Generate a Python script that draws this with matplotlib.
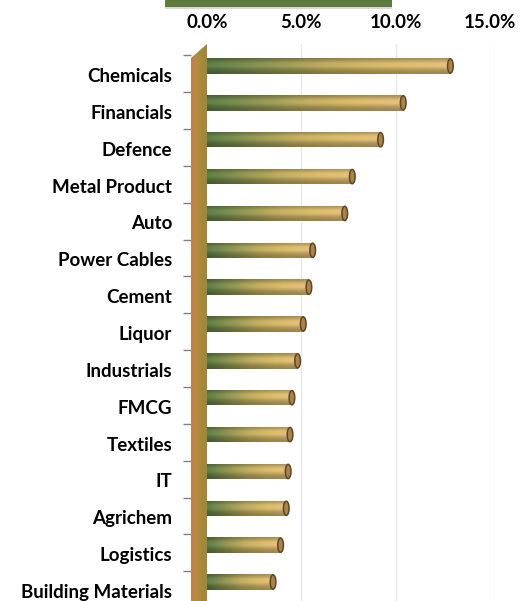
import numpy as np
import matplotlib
matplotlib.use("Agg")
import matplotlib.pyplot as plt
from matplotlib.colors import LinearSegmentedColormap
from matplotlib.patches import Polygon, Ellipse, Rectangle
from matplotlib.transforms import ScaledTranslation
from matplotlib.ticker import FixedLocator, FuncFormatter

categories = ["Chemicals", "Financials", "Defence", "Metal Product", "Auto",
              "Power Cables", "Cement", "Liquor", "Industrials", "FMCG",
              "Textiles", "IT", "Agrichem", "Logistics", "Building Materials"]
values = [12.9, 10.4, 9.2, 7.7, 7.3, 5.6, 5.4, 5.1, 4.8, 4.5, 4.4, 4.3, 4.2, 3.9, 3.5]
xticks = [0, 5, 10, 15]

plt.rcParams['font.family'] = ['Lato', 'DejaVu Sans']

W, H = 526, 601
fig = plt.figure(figsize=(W / 100, H / 100), dpi=100)
ax = fig.add_axes([191 / W, 0, 299 / W, 1 - 44 / H])
n = len(categories)
ypos = np.arange(n)
XLIM = (-0.85, 15.0)
YLIM = ((601 - 66) / 36.86, -0.597)

# gridlines
for xv in xticks[1:]:
    ax.axvline(xv, color="#e8e8e8", lw=1, zorder=0)

# bars
bar_h = 0.42
bars = ax.barh(ypos, values, height=bar_h, left=0, color="none", edgecolor="none", zorder=2)

hcmap = LinearSegmentedColormap.from_list(
    "h", ["#5a7a44", "#8a9050", "#b9a65c", "#d0b466", "#dcb876"])
prof_y = np.linspace(0, 1, 40)
profile = 0.72 + 0.36 * np.exp(-((prof_y - 0.42) / 0.3) ** 2)
profile = np.clip(profile, 0, 1.05)
gx = np.linspace(0, 1, 200)
base = hcmap(gx)[:, :3]
img = np.clip(base[None, :, :] * profile[:, None, None], 0, 1)

for b in bars:
    x0, y0 = b.get_x(), b.get_y()
    w, h = b.get_width(), b.get_height()
    im = ax.imshow(img, extent=[x0, x0 + w, y0 + h, y0], aspect="auto",
                   interpolation="bilinear", zorder=2)
    im.set_clip_path(b)
    ax.add_patch(Ellipse((x0 + w, y0 + h / 2), 0.3, h * 0.92,
                         facecolor="#a8844a", edgecolor="#5e4628", lw=1.1, zorder=3))

ax.set_xlim(*XLIM)
ax.set_ylim(*YLIM)

# 3D wall on the left
ytop_r = YLIM[1]
ytop_l = (58 - 66) / 36.86
ybot = YLIM[0]
wall_cmap = LinearSegmentedColormap.from_list("w", ["#c87c48", "#b88c40", "#a08a3a", "#a8843a"])
wimg = wall_cmap(np.linspace(0, 1, 50))[None, :, :3]
wall = Polygon([[XLIM[0], ytop_l], [0.0, ytop_r], [0.0, ybot], [XLIM[0], ybot]],
               closed=True, facecolor="none", edgecolor="none", zorder=4)
ax.add_patch(wall)
wim = ax.imshow(wimg, extent=[XLIM[0], 0.0, ybot, ytop_r], aspect="auto",
                interpolation="bilinear", zorder=4)
wim.set_clip_path(wall)
ax.set_xlim(*XLIM)
ax.set_ylim(*YLIM)

# axes styling
for s in ax.spines.values():
    s.set_visible(False)
ax.xaxis.tick_top()
ax.set_xticks(xticks)
ax.xaxis.set_major_formatter(FuncFormatter(lambda v, p: f"{v:.1f}%"))
ax.tick_params(axis="x", length=0, pad=9, labelsize=13.5)
for lab in ax.get_xticklabels():
    lab.set_fontweight("bold")

ax.set_yticks(ypos)
ax.set_yticklabels(categories, fontsize=13.5, fontweight="bold")
ax.tick_params(axis="y", which="major", length=0, pad=13.5)
ax.yaxis.set_minor_locator(FixedLocator(ypos - 0.29))
ax.tick_params(axis="y", which="minor", length=5.5, width=1, color="#808080")
off = ScaledTranslation(0, -9 / 100, fig.dpi_scale_trans)
for lab in ax.get_yticklabels():
    lab.set_transform(lab.get_transform() + off)

# green box edge at top
fig.patches.append(Rectangle((165 / W, 1 - 9 / H), 227 / W, 3 / H, transform=fig.transFigure,
                             facecolor="#d8d8d8", edgecolor="none"))
fig.patches.append(Rectangle((165 / W, 1 - 7 / H), 227 / W, 7 / H, transform=fig.transFigure,
                             facecolor="#5e7a3e", edgecolor="none"))

fig.savefig("out.png", dpi=100)
